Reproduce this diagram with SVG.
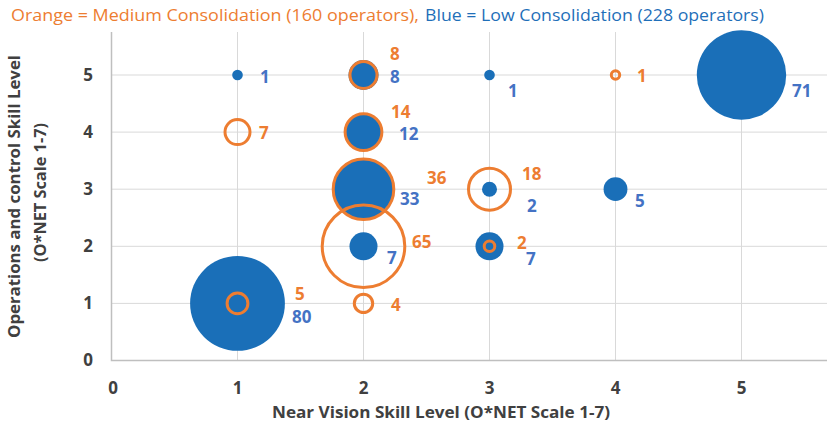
<svg xmlns="http://www.w3.org/2000/svg" width="827" height="423" viewBox="0 0 827 423">
<style>
.grid{stroke:#d9d9d9;stroke-width:1;fill:none}
.axis{stroke:#bfbfbf;stroke-width:1.5;fill:none}
.b{fill:#1a6fb8}
.o{fill:none;stroke:#ed7d31;stroke-width:3}
text{font-family:"Open Sans","Noto Sans","Liberation Sans",sans-serif}
.tick{font-size:17px;font-weight:bold;fill:#404040}
.ax{font-size:16px;font-weight:bold;fill:#404040}
.lo{font-size:17px;font-weight:bold;fill:#ed7d31}
.lb{font-size:17px;font-weight:bold;fill:#4472c4}
</style>
<rect width="827" height="423" fill="#ffffff"/>
<g id="title">
<text x="11" y="21" font-size="16.5" fill="#ed7d31" textLength="408" lengthAdjust="spacingAndGlyphs">Orange = Medium Consolidation (160 operators),</text>
<text x="425" y="21" font-size="16.5" fill="#1f6fb9" textLength="339" lengthAdjust="spacingAndGlyphs">Blue = Low Consolidation (228 operators)</text>
</g>
<g id="gridlines">
<path class="grid" d="M237.5 32V360.5M363.5 32V360.5M489.5 32V360.5M615.5 32V360.5M741.5 32V360.5"/>
<path class="grid" d="M111.5 75H827M111.5 132.1H827M111.5 189.2H827M111.5 246.3H827M111.5 303.4H827"/>
</g>
<g id="axes">
<path class="axis" d="M111.5 32V360.5H827"/>
</g>
<g id="ticks">
<text class="tick" x="88" y="81" text-anchor="middle">5</text>
<text class="tick" x="88" y="138" text-anchor="middle">4</text>
<text class="tick" x="88" y="195" text-anchor="middle">3</text>
<text class="tick" x="88" y="252" text-anchor="middle">2</text>
<text class="tick" x="88" y="309" text-anchor="middle">1</text>
<text class="tick" x="88" y="366" text-anchor="middle">0</text>
<text class="tick" x="113" y="394" text-anchor="middle">0</text>
<text class="tick" x="237.5" y="394" text-anchor="middle">1</text>
<text class="tick" x="363.5" y="394" text-anchor="middle">2</text>
<text class="tick" x="489.5" y="394" text-anchor="middle">3</text>
<text class="tick" x="615.5" y="394" text-anchor="middle">4</text>
<text class="tick" x="741.5" y="394" text-anchor="middle">5</text>
</g>
<g id="axis-titles">
<text class="ax" x="441" y="417.5" text-anchor="middle" textLength="338" lengthAdjust="spacingAndGlyphs">Near Vision Skill Level (O*NET Scale 1-7)</text>
<text class="ax" transform="translate(19.7,196.5) rotate(-90)" text-anchor="middle" textLength="283" lengthAdjust="spacingAndGlyphs">Operations and control Skill Level</text>
<text class="ax" transform="translate(45.5,192.5) rotate(-90)" text-anchor="middle" textLength="139" lengthAdjust="spacingAndGlyphs">(O*NET Scale 1-7)</text>
</g>
<g id="blue-bubbles">
<circle id="b-1-5" class="b" cx="237.5" cy="75" r="5.3"/>
<circle id="b-2-5" class="b" cx="363.5" cy="75" r="15"/>
<circle id="b-3-5" class="b" cx="489.5" cy="75" r="5.3"/>
<circle id="b-5-5" class="b" cx="741.5" cy="75" r="44.7"/>
<circle id="b-2-4" class="b" cx="363.5" cy="132.1" r="18.4"/>
<circle id="b-2-3" class="b" cx="363.5" cy="189.2" r="30.4"/>
<circle id="b-3-3" class="b" cx="489.5" cy="189.2" r="7.5"/>
<circle id="b-4-3" class="b" cx="615.5" cy="189.2" r="11.9"/>
<circle id="b-2-2" class="b" cx="363.5" cy="246.3" r="14"/>
<circle id="b-3-2" class="b" cx="489.5" cy="246.3" r="14"/>
<circle id="b-1-1" class="b" cx="237.5" cy="303.4" r="47.4"/>
</g>
<g id="orange-bubbles">
<circle id="o-2-5" class="o" cx="363.5" cy="75" r="13.5"/>
<circle id="o-4-5" class="o" cx="615.5" cy="75" r="4.2" stroke-width="2.5"/>
<circle id="o-1-4" class="o" cx="237.5" cy="132.1" r="12.5"/>
<circle id="o-2-4" class="o" cx="363.5" cy="132.1" r="18.4"/>
<circle id="o-2-3" class="o" cx="363.5" cy="189.2" r="30.3"/>
<circle id="o-3-3" class="o" cx="489.5" cy="189.2" r="21"/>
<circle id="o-2-2" class="o" cx="363.5" cy="246.3" r="41.3"/>
<circle id="o-3-2" class="o" cx="489.5" cy="246.3" r="5.3" stroke-width="2.6"/>
<circle id="o-2-1" class="o" cx="363.5" cy="303.4" r="9.2"/>
<circle id="o-1-1" class="o" cx="237.5" cy="303.4" r="10.4"/>
</g>
<g id="labels">
<text class="lb" x="260" y="83">1</text>
<text class="lo" x="390" y="60">8</text>
<text class="lb" x="390" y="83">8</text>
<text class="lb" x="508" y="97">1</text>
<text class="lo" x="637" y="82">1</text>
<text class="lb" x="792" y="97">71</text>
<text class="lo" x="259" y="139">7</text>
<text class="lo" x="391" y="118">14</text>
<text class="lb" x="399" y="140">12</text>
<text class="lo" x="427" y="184">36</text>
<text class="lb" x="400" y="205">33</text>
<text class="lo" x="522" y="180">18</text>
<text class="lb" x="527" y="212">2</text>
<text class="lb" x="635" y="207">5</text>
<text class="lo" x="412" y="248">65</text>
<text class="lb" x="387" y="264">7</text>
<text class="lo" x="517" y="249">2</text>
<text class="lb" x="526" y="265">7</text>
<text class="lo" x="391" y="311">4</text>
<text class="lo" x="295" y="300">5</text>
<text class="lb" x="292" y="323">80</text>
</g>
</svg>
